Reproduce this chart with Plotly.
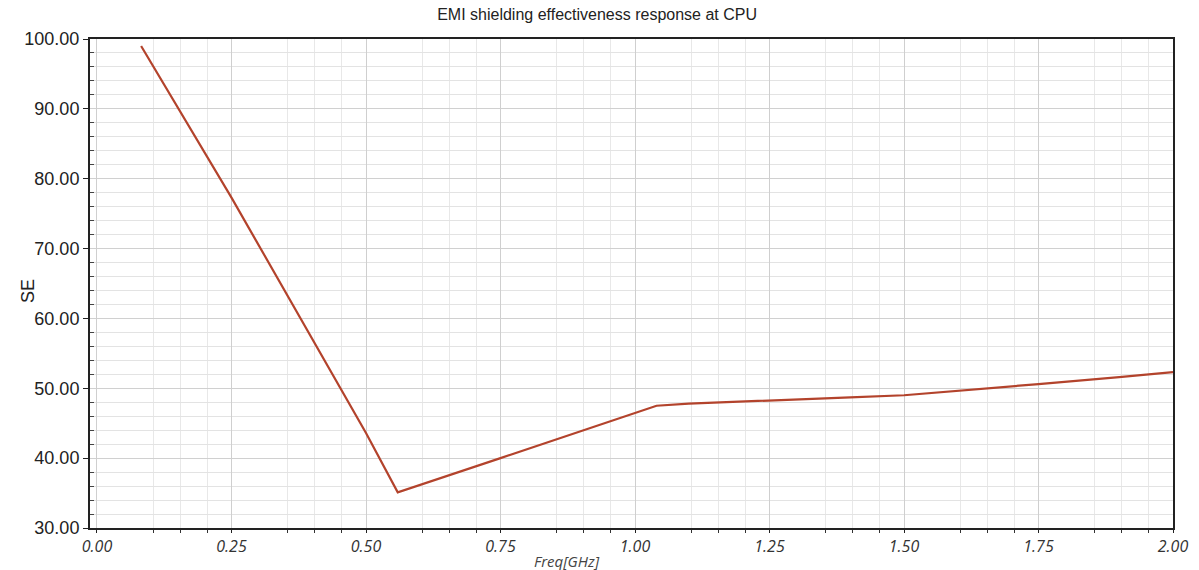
import plotly.graph_objects as go

freq_ghz = [0.082, 0.25, 0.50, 0.559, 0.75, 0.90, 1.04, 1.10, 1.25, 1.40, 1.50, 1.60, 1.75, 1.90, 2.00]
se_values = [99.0, 77.3, 43.6, 35.1, 40.0, 43.9, 47.5, 47.8, 48.3, 48.7, 49.0, 49.6, 50.6, 51.6, 52.3]

x_major = [0.0, 0.25, 0.5, 0.75, 1.0, 1.25, 1.5, 1.75, 2.0]
x_labels = ["0.00", "0.25", "0.50", "0.75", "1.00", "1.25", "1.50", "1.75", "2.00"]
x_minor_offsets = [0.105, 0.155, 0.205]
y_major = [30, 40, 50, 60, 70, 80, 90, 100]
y_labels = ["30.00", "40.00", "50.00", "60.00", "70.00", "80.00", "90.00", "100.00"]

x_minor = [round(b + o, 3) for b in x_major[:-1] for o in x_minor_offsets]
y_minor = [v for v in range(30, 101, 2) if v % 10 != 0]

fig = go.Figure()
fig.add_trace(go.Scatter(x=freq_ghz, y=se_values, mode="lines",
                         line=dict(color="#b3432c", width=2.2), showlegend=False))

fig.update_layout(
    width=1199, height=570,
    margin=dict(l=90, r=26, t=39, b=42),
    paper_bgcolor="white", plot_bgcolor="white",
    title=dict(text="EMI shielding effectiveness response at CPU", x=0.498, xanchor="center",
               y=0.985, yanchor="top", font=dict(family="Liberation Sans, Arial", size=16, color="#222")),
    font=dict(family="Liberation Sans, Arial", color="#222"),
)
fig.update_xaxes(
    range=[-0.013, 2.0], tickmode="array", tickvals=x_major, ticktext=x_labels,
    tickfont=dict(family="Open Sans, DejaVu Sans", size=16, style="italic", color="#333"),
    showgrid=True, gridcolor="#cfcfcf", gridwidth=1,
    showline=True, linecolor="#222", linewidth=2, mirror=True,
    ticks="outside", ticklen=3, tickcolor="#222", zeroline=False, automargin=False,
    minor=dict(tickmode="array", tickvals=x_minor, showgrid=True, gridcolor="#e8e8e8",
               ticks="outside", ticklen=3, tickcolor="#333"),
)
fig.update_yaxes(
    range=[30, 100], tickmode="array", tickvals=y_major, ticktext=y_labels,
    tickfont=dict(family="Liberation Sans, Arial", size=18, color="#222"),
    showgrid=True, gridcolor="#d0d0d0", gridwidth=1,
    showline=True, linecolor="#222", linewidth=2, mirror=True,
    ticks="outside", ticklen=5, tickcolor="#222", zeroline=False, automargin=False,
    minor=dict(tickmode="array", tickvals=y_minor, showgrid=True, gridcolor="#e3e3e3",
               ticks="inside", ticklen=4, tickcolor="#444"),
)
fig.add_annotation(text="Freq[GHz]", xref="paper", yref="paper", x=0.44, y=-0.068,
                   xanchor="center", yanchor="middle", showarrow=False,
                   font=dict(family="Open Sans, DejaVu Sans", size=15, style="italic", color="#444"))
fig.add_annotation(text="SE", xref="paper", yref="paper", x=-0.057, y=0.485,
                   xanchor="center", yanchor="middle", textangle=-90, showarrow=False,
                   font=dict(family="Liberation Sans, Arial", size=18, color="#222"))

fig.write_html("out.html")
